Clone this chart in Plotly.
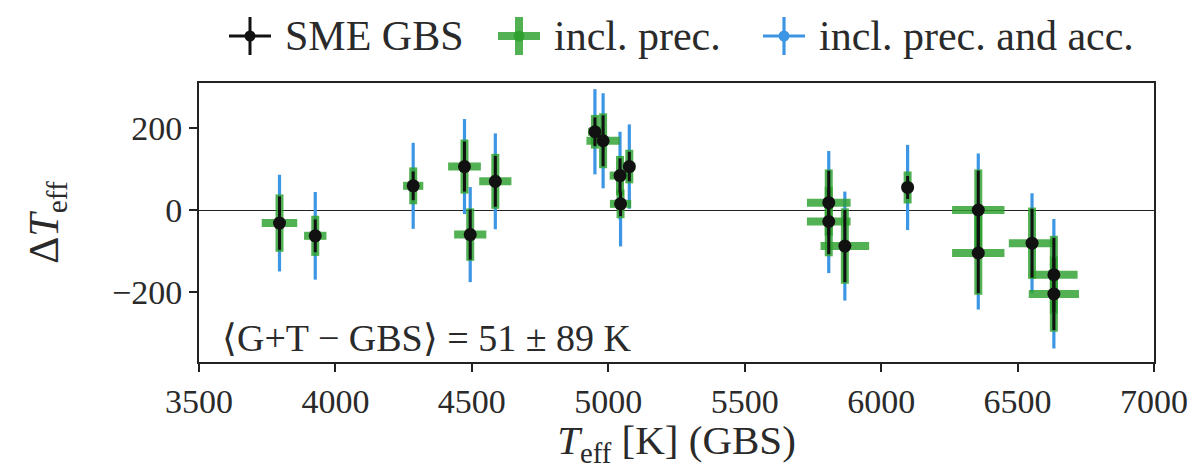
import plotly.graph_objects as go

# ---- data ----
teff_gbs = [3795, 3926, 4285, 4473, 4494, 4586, 4951, 4981, 5043, 5045,
            5077, 5808, 5808, 5867, 6097, 6356, 6356, 6553, 6633, 6633]
delta_teff = [-31, -62, 60, 107, -59, 71, 192, 170, 85, 16,
              107, 19, -27, -87, 56, 1, -104, -80, -157, -204]
err_sme = [65, 40, 35, 61, 61, 62, 35, 62, 42, 30,
           36, 78, 80, 88, 28, 96, 98, 84, 90, 88]
err_prec = [70, 49, 45, 66, 64, 67, 41, 67, 48, 35,
            41, 81, 85, 92, 39, 99, 102, 87, 95, 92]
err_acc = [118, 107, 105, 116, 116, 117, 104, 116, 107, 104,
           103, 126, 126, 133, 104, 138, 138, 122, 136, 133]
err_teff_gbs = [65, 41, 37, 60, 59, 59, 25, 61, 38, 39,
                22, 80, 80, 89, 20, 96, 96, 85, 87, 92]

legend_labels = ["SME GBS", "incl. prec.", "incl. prec. and acc."]
annot_text = "⟨G+T − GBS⟩ = 51 ± 89 K"

BLACK = "#111111"
GREEN = "rgba(44,160,44,0.82)"
BLUE = "rgb(60,150,228)"
FONT = "Liberation Serif"
TXT = "#2a2a2a"

fig = go.Figure()

# blue: precision + accuracy
fig.add_trace(go.Scatter(
    x=teff_gbs, y=delta_teff, mode="markers",
    marker=dict(color=BLUE, size=9),
    error_y=dict(type="data", array=err_acc, color=BLUE, thickness=3.2, width=0),
    showlegend=False))
# green: incl. precision
fig.add_trace(go.Scatter(
    x=teff_gbs, y=delta_teff, mode="markers",
    marker=dict(color=GREEN, size=10),
    error_y=dict(type="data", array=err_prec, color=GREEN, thickness=8, width=0),
    error_x=dict(type="data", array=err_teff_gbs, color=GREEN, thickness=8, width=0),
    showlegend=False))
# black: SME GBS
fig.add_trace(go.Scatter(
    x=teff_gbs, y=delta_teff, mode="markers",
    marker=dict(color=BLACK, size=13),
    error_y=dict(type="data", array=err_sme, color=BLACK, thickness=3, width=0),
    showlegend=False))

# ---- manual legend (pixel -> paper) ----
L, R, T, B = 199, 1154, 83, 362
def px(x): return (x - L) / (R - L)
def py(y): return (B - y) / (B - T)

shapes = []
annots = []
leg_items = [
    (250, BLACK, 3, legend_labels[0]),
    (519, GREEN, 8, legend_labels[1]),
    (784, BLUE, 3.2, legend_labels[2]),
]
yc = 36
for xc, col, th, lab in leg_items:
    shapes.append(dict(type="line", xref="paper", yref="paper",
                       x0=px(xc), x1=px(xc), y0=py(yc - 19), y1=py(yc + 19),
                       line=dict(color=col, width=th)))
    shapes.append(dict(type="line", xref="paper", yref="paper",
                       x0=px(xc - 21), x1=px(xc + 21), y0=py(yc), y1=py(yc),
                       line=dict(color=col, width=th)))
    r = 5.5
    shapes.append(dict(type="circle", xref="paper", yref="paper",
                       x0=px(xc - r), x1=px(xc + r), y0=py(yc - r), y1=py(yc + r),
                       fillcolor=col, line=dict(color=col, width=0)))
    annots.append(dict(text=lab, xref="paper", yref="paper",
                       x=px(xc + 33), y=py(yc), xanchor="left", yanchor="middle",
                       showarrow=False, font=dict(family=FONT, size=42, color=TXT)))

annots.append(dict(text=annot_text, xref="paper", yref="paper",
                   x=px(220), y=py(338), xanchor="left", yanchor="middle",
                   showarrow=False, font=dict(family=FONT, size=38, color=TXT)))

fig.update_layout(
    width=1190, height=469,
    margin=dict(l=L, r=1190 - R, t=T, b=469 - B, autoexpand=False),
    paper_bgcolor="white", plot_bgcolor="white",
    font=dict(family=FONT, size=34, color=TXT),
    shapes=shapes, annotations=annots, showlegend=False,
)
fig.update_xaxes(
    range=[3500, 7000], tickvals=[3500, 4000, 4500, 5000, 5500, 6000, 6500, 7000],
    ticks="outside", ticklen=8, tickwidth=1.5, tickcolor="#222",
    showline=True, linecolor="#222", linewidth=2, mirror=True,
    showgrid=False, zeroline=False, automargin=False,
    title=dict(text="<i>T</i><sub>eff</sub> [K] (GBS)", font=dict(size=41), standoff=6),
)
fig.update_yaxes(
    range=[-370, 311], tickvals=[-200, 0, 200],
    ticks="outside", ticklen=8, tickwidth=1.5, tickcolor="#222",
    showline=True, linecolor="#222", linewidth=2, mirror=True,
    showgrid=False, zeroline=True, zerolinecolor="#222", zerolinewidth=1,
    automargin=False,
    title=dict(text="Δ<i>T</i><sub>eff</sub>", font=dict(size=42), standoff=40),
)

fig.write_html("out.html")
